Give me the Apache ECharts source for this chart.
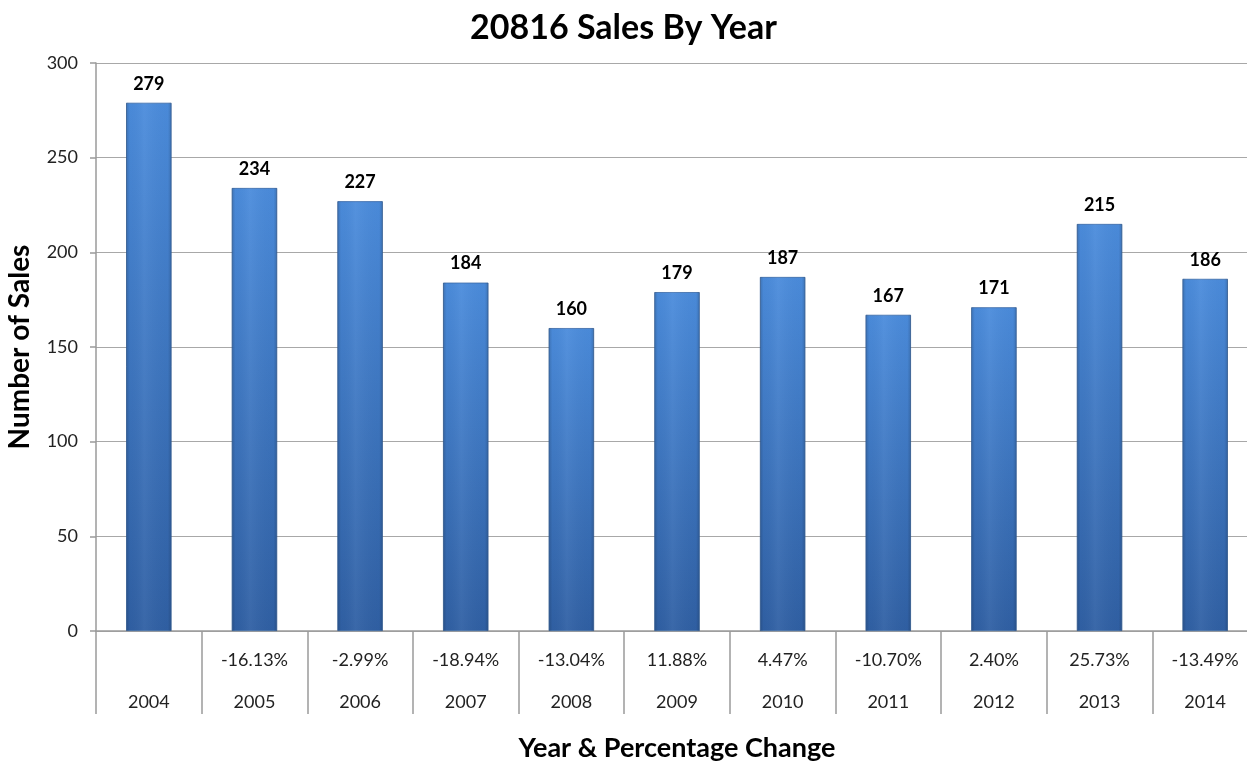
<!DOCTYPE html>
<html><head><meta charset="utf-8">
<script src="https://cdn.jsdelivr.net/npm/echarts@6/dist/echarts.min.js"></script>
<style>html,body{margin:0;padding:0;background:#fff}#c{width:1247px;height:761px}</style>
</head><body><div id="c"></div>
<script>
const years = ['2004','2005','2006','2007','2008','2009','2010','2011','2012','2013','2014'];
const sales = [279,234,227,184,160,179,187,167,171,215,186];
const pctChange = ['','-16.13%','-2.99%','-18.94%','-13.04%','11.88%','4.47%','-10.70%','2.40%','25.73%','-13.49%'];
const yTicks = [0,50,100,150,200,250,300];

const FONT = 'Lato, "Open Sans", sans-serif';
const chart = echarts.init(document.getElementById('c'));
chart.setOption({
  animation:false,
  title:{text:'20816 Sales By Year',left:'center',top:6,
    textStyle:{fontFamily:FONT,fontSize:34,fontWeight:'bold',color:'#000'}},
  grid:{left:96,right:-11,top:63,bottom:130,containLabel:false,outerBoundsMode:'none'},
  xAxis:{type:'category',data:years,
    name:'Year & Percentage Change',nameLocation:'middle',nameGap:104,
    nameTextStyle:{fontFamily:FONT,fontSize:27,fontWeight:'bold',color:'#000'},
    axisLine:{lineStyle:{color:'#9a9a9a',width:1.5}},
    axisTick:{show:true,length:83,lineStyle:{color:'#9a9a9a',width:1.5}},
    axisLabel:{interval:0,margin:8,
      formatter:function(v,i){return '{p|'+(pctChange[i]||' ')+'}\n{y|'+v+'}';},
      rich:{p:{fontFamily:FONT,fontSize:18,color:'#222',lineHeight:42,height:42},
            y:{fontFamily:FONT,fontSize:18,color:'#222',lineHeight:42,height:42}}}
  },
  yAxis:{type:'value',min:0,max:300,interval:50,
    name:'Number of Sales',nameLocation:'middle',nameGap:62,nameRotate:90,
    nameTextStyle:{fontFamily:FONT,fontSize:28,fontWeight:'bold',color:'#000'},
    axisLine:{show:true,lineStyle:{color:'#9a9a9a',width:1.5}},
    axisTick:{show:true,length:6,lineStyle:{color:'#9a9a9a',width:1.5}},
    axisLabel:{fontFamily:FONT,fontSize:18,color:'#222',margin:18,
      formatter:function(v){return yTicks.indexOf(v)>=0?String(v):'';}},
    splitLine:{lineStyle:{color:'#a8a8a8',width:1.2}}
  },
  series:[
    {type:'bar',data:sales,barWidth:'43%',
      itemStyle:{color:new echarts.graphic.LinearGradient(0,0,0,1,[
        {offset:0,color:'#4b8cdc'},{offset:1,color:'#3060a4'}]),
        borderColor:'#3a6aa8',borderWidth:0.8},
      label:{show:true,position:'top',distance:10,fontFamily:FONT,fontSize:18,fontWeight:'bold',color:'#000'}
    },
    {type:'bar',data:sales,barWidth:'43%',barGap:'-100%',silent:true,
      itemStyle:{color:new echarts.graphic.LinearGradient(0,0,1,0,[
        {offset:0,color:'rgba(0,0,0,0.18)'},{offset:0.08,color:'rgba(0,0,0,0.02)'},
        {offset:0.4,color:'rgba(255,255,255,0.05)'},{offset:0.92,color:'rgba(0,0,0,0.02)'},
        {offset:1,color:'rgba(0,0,0,0.18)'}])}
    }
  ]
});
</script></body></html>
